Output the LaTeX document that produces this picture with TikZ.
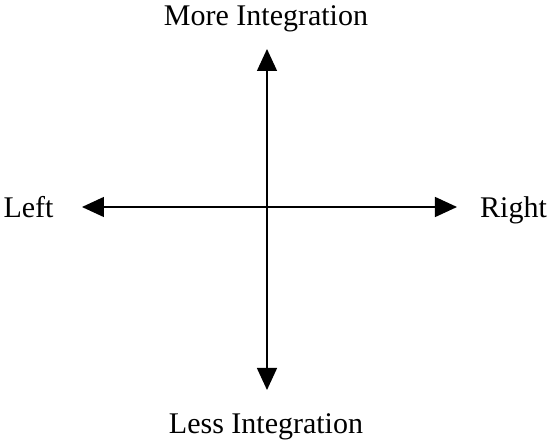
\documentclass[tikz,border=0pt]{standalone}
\usepackage{fontspec}
\setmainfont{Liberation Serif}
\usetikzlibrary{arrows.meta}

\begin{document}
\begin{tikzpicture}[x=0.5pt, y=-0.5pt, line join=round,
        axe/.style={line width=0.7pt, {Triangle[length=11pt, width=10pt]}-{Triangle[length=11pt, width=10pt]}},
        etiquette/.style={anchor=base, inner sep=0pt, font=\fontsize{15}{18}\selectfont}]
        \useasboundingbox (0,0) rectangle (548,443);

        \coordinate (haut) at (267,49);
        \coordinate (bas) at (267,390);
        \coordinate (gauche) at (82,207);
        \coordinate (droite) at (457,207);

        \draw[axe] (haut) -- (bas);
        \draw[axe] (gauche) -- (droite);

        \node[etiquette] (plus) at (266,26) {More Integration};
        \node[etiquette] (moins) at (266,434) {Less Integration};
        \node[etiquette] (left) at (28.5,218) {Left};
        \node[etiquette] (right) at (513.5,218) {Right};
    \end{tikzpicture}
\end{document}
